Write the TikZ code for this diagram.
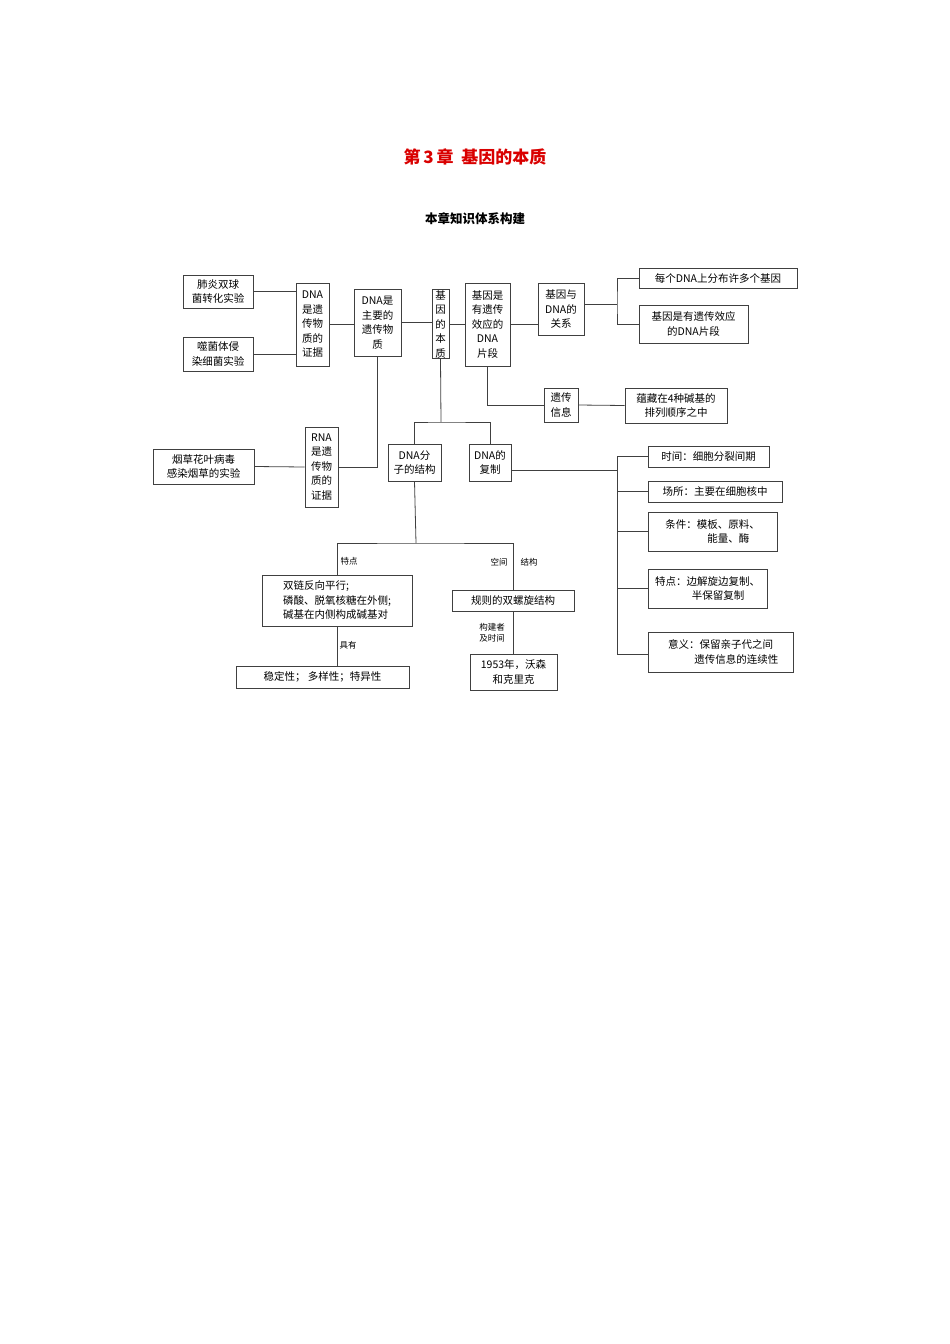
\documentclass[tikz,border=0pt]{standalone}
\usepackage{fontspec}
\setmainfont{Liberation Serif}
\newfontfamily\cjk{Noto Sans CJK SC}
\begin{document}
\begin{tikzpicture}[x=1pt,y=-1pt,
  bx/.style={draw=black!75,line width=0.8pt,inner sep=1pt,align=center,font=\cjk\fontsize{10.5}{14.5}\selectfont},
  ln/.style={draw=black!75,line width=0.8pt},
  lab/.style={font=\cjk\fontsize{8.5}{11}\selectfont,align=center}]
\useasboundingbox (0,0) rectangle (950,1344);
\node[font=\cjk\bfseries\fontsize{17}{20}\selectfont,text=red!85!black] (t) at (475,157) {第\,3\,章\ \ 基因的本质};
\node[font=\cjk\bfseries\fontsize{12.5}{15}\selectfont] (st) at (475,219) {本章知识体系构建};
\newcommand\bb[6]{\node[bx,minimum width=#3-#2,minimum height=#5-#4] (#1) at ({(#2+#3)/2},{(#4+#5)/2}) {#6};}
\bb{a1}{183}{253}{275}{308}{肺炎双球\\菌转化实验}
\bb{a2}{183}{253}{337}{371}{噬菌体侵\\染细菌实验}
\bb{b}{296}{329}{283}{366}{DNA\\是遗\\传物\\质的\\证据}
\bb{c}{354}{401}{289}{356}{DNA是\\主要的\\遗传物\\质}
\bb{d}{432}{449}{290}{358}{基\\因\\的\\本\\质}
\bb{e}{465}{510}{283}{366}{基因是\\有遗传\\效应的\\DNA\\片段}
\bb{f}{538}{584}{283}{335}{基因与\\DNA的\\关系}
\bb{g1}{639}{797}{268}{288}{每个DNA上分布许多个基因}
\bb{g2}{639}{748}{305}{343}{基因是有遗传效应\\的DNA片段}
\bb{h}{544}{578}{388}{422}{遗传\\信息}
\bb{i}{625}{727}{388}{423}{蕴藏在4种碱基的\\排列顺序之中}
\bb{r}{305}{338}{427}{507}{RNA\\是遗\\传物\\质的\\证据}
\bb{s}{153}{254}{449}{484}{烟草花叶病毒\\感染烟草的实验}
\bb{m}{388}{441}{444}{481}{DNA分\\子的结构}
\bb{n}{469}{511}{444}{481}{DNA的\\复制}
\bb{p1}{648}{769}{446}{467}{时间：细胞分裂间期}
\bb{p2}{648}{782}{481}{502}{场所：主要在细胞核中}
\bb{p3}{648}{777}{512}{551}{条件：模板、原料、\\\hspace*{3em}能量、酶}
\bb{p4}{648}{767}{569}{608}{特点：边解旋边复制、\\\hspace*{2em}半保留复制}
\bb{p5}{648}{793}{632}{672}{意义：保留亲子代之间\\\hspace*{3em}遗传信息的连续性}
\node[bx,align=left,minimum width=150,minimum height=51] (q1) at (337,600.5) {双链反向平行;\\磷酸、脱氧核糖在外侧;\\碱基在内侧构成碱基对};
\bb{q2}{452}{574}{590}{611}{规则的双螺旋结构}
\bb{q3}{236}{409}{666}{688}{稳定性；\ 多样性；特异性}
\bb{q4}{470}{557}{654}{690}{1953年，沃森\\和克里克}
% connectors
\draw[ln] (a1.east) -- (a1.east -| b.west);
\draw[ln] (a2.east) -- (a2.east -| b.west);
\draw[ln] (b.east) -- (b.east -| c.west);
\draw[ln] (c.east) -- (c.east -| d.west);
\draw[ln] (d.east) -- (d.east -| e.west);
\draw[ln] (e.east) -- (e.east -| f.west);
\coordinate (fj) at (617,304);
\draw[ln] (f.east |- fj) -- (fj);
\draw[ln] (g1.west) -| (fj) |- (g2.west);
\draw[ln] (e.south) |- (h.west);
\draw[ln] (h.east) -- (i.west);
\draw[ln] (c.south) |- (r.east);
\draw[ln] (s.east) -- (r.west);
\coordinate (dj) at (441,422);
\draw[ln] (d.south) -- (dj);
\draw[ln] (m.north) |- (dj) -| (n.north);
\coordinate (rj) at (617,470);
\draw[ln] (n.east |- rj) -- (rj);
\coordinate (rb) at (617,654);
\draw[ln] (p1.west) -| (rb);
\foreach \k in {p2,p3,p4} \draw[ln] (rj |- \k.west) -- (\k.west);
\draw[ln] (rb) -- (rb -| p5.west);
\coordinate (mj) at (416,543);
\draw[ln] (m.south) -- (mj);
\draw[ln] (q1.north) |- (mj) -| (q2.north);
\draw[ln] (q1.south) -- (q1.south |- q3.north);
\draw[ln] (q2.south) -- (q2.south |- q4.north);
\node[lab] (l1) at (349,561) {特点};
\node[lab] (l2) at (499,562) {空间};
\node[lab] (l3) at (529,562) {结构};
\node[lab] (l4) at (348,645) {具有};
\node[lab] (l5) at (492,633) {构建者\\及时间};
\end{tikzpicture}
\end{document}
